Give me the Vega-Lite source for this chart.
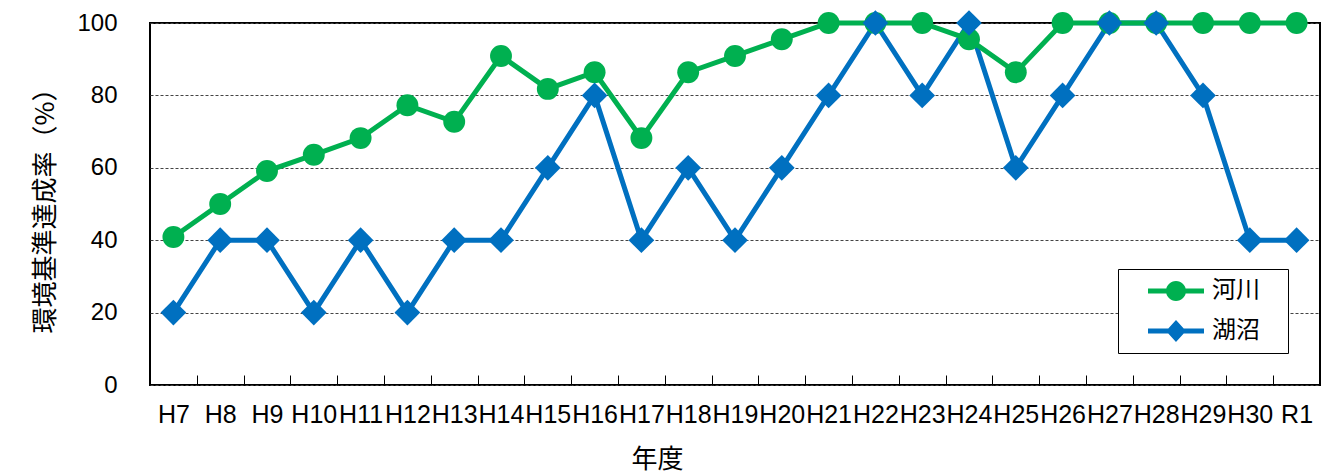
{
  "$schema": "https://vega.github.io/schema/vega-lite/v6.json",
  "width": 1170,
  "height": 362,
  "autosize": {"type": "none"},
  "padding": {"left": 150, "top": 23, "right": 18, "bottom": 88},
  "background": "white",
  "config": {
    "view": {"stroke": "#000000", "strokeWidth": 2},
    "font": "Liberation Sans"
  },
  "data": {
    "values": [
      {"year": "H7", "type": "河川", "value": 40.9},
      {"year": "H8", "type": "河川", "value": 50},
      {"year": "H9", "type": "河川", "value": 59.1},
      {"year": "H10", "type": "河川", "value": 63.6},
      {"year": "H11", "type": "河川", "value": 68.2},
      {"year": "H12", "type": "河川", "value": 77.3},
      {"year": "H13", "type": "河川", "value": 72.7},
      {"year": "H14", "type": "河川", "value": 90.9},
      {"year": "H15", "type": "河川", "value": 81.8},
      {"year": "H16", "type": "河川", "value": 86.4},
      {"year": "H17", "type": "河川", "value": 68.2},
      {"year": "H18", "type": "河川", "value": 86.4},
      {"year": "H19", "type": "河川", "value": 90.9},
      {"year": "H20", "type": "河川", "value": 95.5},
      {"year": "H21", "type": "河川", "value": 100},
      {"year": "H22", "type": "河川", "value": 100},
      {"year": "H23", "type": "河川", "value": 100},
      {"year": "H24", "type": "河川", "value": 95.5},
      {"year": "H25", "type": "河川", "value": 86.4},
      {"year": "H26", "type": "河川", "value": 100},
      {"year": "H27", "type": "河川", "value": 100},
      {"year": "H28", "type": "河川", "value": 100},
      {"year": "H29", "type": "河川", "value": 100},
      {"year": "H30", "type": "河川", "value": 100},
      {"year": "R1", "type": "河川", "value": 100},
      {"year": "H7", "type": "湖沼", "value": 20},
      {"year": "H8", "type": "湖沼", "value": 40},
      {"year": "H9", "type": "湖沼", "value": 40},
      {"year": "H10", "type": "湖沼", "value": 20},
      {"year": "H11", "type": "湖沼", "value": 40},
      {"year": "H12", "type": "湖沼", "value": 20},
      {"year": "H13", "type": "湖沼", "value": 40},
      {"year": "H14", "type": "湖沼", "value": 40},
      {"year": "H15", "type": "湖沼", "value": 60},
      {"year": "H16", "type": "湖沼", "value": 80},
      {"year": "H17", "type": "湖沼", "value": 40},
      {"year": "H18", "type": "湖沼", "value": 60},
      {"year": "H19", "type": "湖沼", "value": 40},
      {"year": "H20", "type": "湖沼", "value": 60},
      {"year": "H21", "type": "湖沼", "value": 80},
      {"year": "H22", "type": "湖沼", "value": 100},
      {"year": "H23", "type": "湖沼", "value": 80},
      {"year": "H24", "type": "湖沼", "value": 100},
      {"year": "H25", "type": "湖沼", "value": 60},
      {"year": "H26", "type": "湖沼", "value": 80},
      {"year": "H27", "type": "湖沼", "value": 100},
      {"year": "H28", "type": "湖沼", "value": 100},
      {"year": "H29", "type": "湖沼", "value": 80},
      {"year": "H30", "type": "湖沼", "value": 40},
      {"year": "R1", "type": "湖沼", "value": 40}
    ]
  },
  "encoding": {
    "x": {
      "field": "year",
      "type": "nominal",
      "sort": null,
      "scale": {"type": "band", "paddingInner": 0, "paddingOuter": 0},
      "axis": {
        "title": "年度",
        "labelAngle": 0,
        "labelFont": "Liberation Sans",
        "labelFontSize": 25,
        "labelColor": "#000000",
        "labelPadding": 27,
        "labelOverlap": false,
        "labelBound": false,
        "tickBand": "extent",
        "tickSize": -10,
        "tickColor": "#000000",
        "tickWidth": 1,
        "domain": false,
        "grid": false,
        "titleFont": "Noto Sans CJK JP",
        "titleFontSize": 26,
        "titleFontWeight": "normal",
        "titleColor": "#000000",
        "titlePadding": 19,
        "titleX": 507
      }
    },
    "y": {
      "field": "value",
      "type": "quantitative",
      "scale": {"domain": [0, 100]},
      "axis": {
        "values": [0, 20, 40, 60, 80, 100],
        "title": "環境基準達成率（%）",
        "grid": true,
        "gridDash": [3, 2],
        "gridColor": "#444444",
        "gridWidth": 1,
        "ticks": false,
        "tickSize": 0,
        "domain": false,
        "labelFont": "Liberation Sans",
        "labelFontSize": 24,
        "labelColor": "#000000",
        "labelPadding": 33,
        "titleFont": "Noto Sans CJK JP",
        "titleFontSize": 26,
        "titleFontWeight": "normal",
        "titleColor": "#000000",
        "titlePadding": 18
      }
    },
    "color": {
      "field": "type",
      "type": "nominal",
      "scale": {"domain": ["河川", "湖沼"], "range": ["#00B050", "#0070C0"]},
      "legend": {
        "title": null,
        "orient": "bottom-right",
        "offset": 32,
        "strokeColor": "#000000",
        "fillColor": "#ffffff",
        "padding": 10,
        "labelFont": "Noto Sans CJK JP",
        "labelFontSize": 24,
        "labelColor": "#000000",
        "labelExpr": "datum.label + '\u2800'",
        "symbolSize": 576,
        "labelOffset": 60,
        "rowPadding": 16,
        "encode": {
          "symbols": {
            "update": {
              "shape": {"signal": "datum.value === '河川' ? 'M0.667,-0.208L5.333,-0.208L5.333,0.208L0.667,0.208Z M3.833,0A0.833,0.833 0 1 1 2.167,0A0.833,0.833 0 1 1 3.833,0Z' : 'M0.667,-0.208L5.333,-0.208L5.333,0.208L0.667,0.208Z M3,-0.917L3.833,0L3,0.917L2.167,0Z'"},
              "fill": {"signal": "datum.value === '河川' ? '#00B050' : '#0070C0'"},
              "stroke": {"value": "transparent"},
              "strokeWidth": {"value": 0},
              "opacity": {"value": 1},
              "size": {"value": 576}
            }
          }
        }
      }
    }
  },
  "layer": [
    {
      "transform": [{"filter": "datum.type === '湖沼'"}],
      "mark": {"type": "line", "strokeWidth": 5}
    },
    {
      "transform": [{"filter": "datum.type === '河川'"}],
      "mark": {"type": "line", "strokeWidth": 5}
    },
    {
      "transform": [{"filter": "datum.type === '河川'"}],
      "mark": {"type": "point", "shape": "circle", "filled": true, "size": 480, "opacity": 1}
    },
    {
      "transform": [{"filter": "datum.type === '湖沼'"}],
      "mark": {"type": "point", "shape": "diamond", "filled": true, "size": 660, "opacity": 1}
    }
  ]
}
